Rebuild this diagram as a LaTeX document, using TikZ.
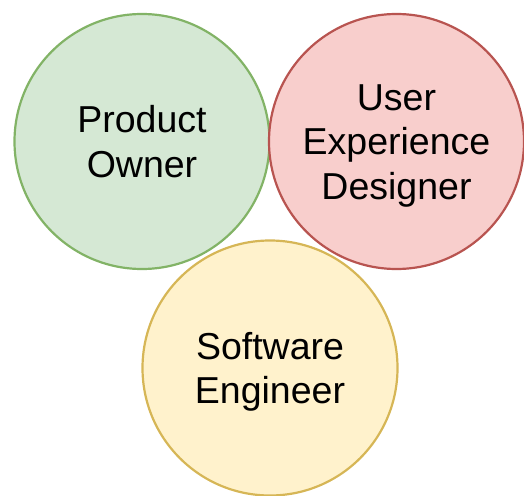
\documentclass[tikz,border=0pt]{standalone}
\usepackage{fontspec}
\setmainfont{Liberation Sans}
\definecolor{greenfill}{HTML}{D5E8D4}
\definecolor{greenline}{HTML}{82B366}
\definecolor{redfill}{HTML}{F8CECC}
\definecolor{redline}{HTML}{B85450}
\definecolor{yellowfill}{HTML}{FFF2CC}
\definecolor{yellowline}{HTML}{D6B656}
\tikzset{
  role/.style={circle, draw, line width=2.2pt, minimum size=255pt, inner sep=0pt},
  rolename/.style={align=center, text=black, inner sep=0pt,
    font=\fontsize{37.5}{44.5}\selectfont},
  po/.style={role, fill=greenfill, draw=greenline},
  ux/.style={role, fill=redfill, draw=redline},
  se/.style={role, fill=yellowfill, draw=yellowline},
}
\begin{document}
\begin{tikzpicture}[x=1pt,y=-1pt]
  \useasboundingbox (0,0) rectangle (524,495);
  % the three roles
  \node[po] (owner) at (142,141.5) {};
  \node[ux] (designer) at (396.5,141.5) {};
  \node[se] (engineer) at (270,368) {};
  % their names
  \node[rolename] (ownerName) at (owner.center) {Product\\Owner};
  \node[rolename] (designerName) at ([yshift=-4pt]designer.center) {User\\Experience\\Designer};
  \node[rolename] (engineerName) at ([yshift=-4pt]engineer.center) {Software\\Engineer};
\end{tikzpicture}
\end{document}
